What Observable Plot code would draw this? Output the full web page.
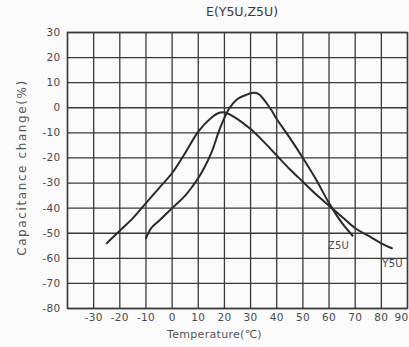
<!DOCTYPE html>
<html>
<head>
<meta charset="utf-8">
<script src="https://cdn.jsdelivr.net/npm/d3@7"></script>
<script src="https://cdn.jsdelivr.net/npm/@observablehq/plot@0.6"></script>
<style>
  html, body { margin: 0; padding: 0; background: #fbfbfb; }
  #wrap { width: 409px; height: 347px; overflow: hidden; position: relative; }
  #title { height: 24px; position: relative; font-family: "DejaVu Sans", sans-serif; font-size: 12.5px; color: #3a3a3a; }
  #title span { position: absolute; left: 242px; top: 11px; transform: translate(-50%, -50%); white-space: nowrap; }
</style>
</head>
<body>
<div id="wrap">
  <div id="title"><span>E(Y5U,Z5U)</span></div>
  <div id="chart"></div>
</div>
<script>
const y5uTemp = [-25, -20, -15, -10, -5, 0, 5, 10, 15, 18, 20, 25, 30, 35, 40, 45, 50, 55, 60, 65, 70, 75, 80, 84];
const y5uChange = [-54, -49, -44, -38, -32, -26, -18, -9.5, -4, -2, -1.8, -4.5, -8.5, -13.5, -19, -24.5, -29.5, -34.5, -39, -43.5, -48, -51, -54, -56];
const z5uTemp = [-10, -8, -5, 0, 5, 8, 10, 12, 15, 18, 20, 22, 25, 28, 31, 33, 36, 38, 40, 45, 50, 55, 60, 65, 69];
const z5uChange = [-52, -48, -45, -40, -35, -31, -28, -24.5, -18, -9, -4, 0, 3.5, 5, 6, 5.5, 2, -1, -4.5, -12, -20, -28.5, -38, -46, -51];
const xTicks = [-30, -20, -10, 0, 10, 20, 30, 40, 50, 60, 70, 80];
const xLastTick = [90];
const yTicks = [30, 20, 10, 0, -10, -20, -30, -40, -50, -60, -70, -80];
const seriesLabels = ["Z5U", "Y5U"];
const labelTemp = [63.6, 84.3];
const labelChange = [-55, -62];
const xTitle = "Temperature(℃)";
const yTitle = "Capacitance change(%)";

const y5u = y5uTemp.map((t, i) => ({t, c: y5uChange[i]}));
const z5u = z5uTemp.map((t, i) => ({t, c: z5uChange[i]}));
const labels = seriesLabels.map((s, i) => ({s, t: labelTemp[i], c: labelChange[i]}));
const gridX = d3.range(-40, 91, 10);

const chart = Plot.plot({
  width: 409,
  height: 323,
  marginLeft: 67,
  marginRight: 2,
  marginTop: 8,
  marginBottom: 39,
  style: {fontFamily: "DejaVu Sans, sans-serif", fontSize: "10.5px", color: "#4a4a4a", background: "transparent", letterSpacing: "0.3px"},
  x: {domain: [-40, 90], label: null},
  y: {domain: [-80, 30], label: null},
  marks: [
    Plot.ruleX(gridX, {stroke: "#3a3a3a", strokeWidth: 1.3}),
    Plot.ruleY(yTicks, {stroke: "#3a3a3a", strokeWidth: 1.3}),
    Plot.frame({stroke: "#3a3a3a", strokeWidth: 1.4}),
    Plot.axisX(xTicks, {tickSize: 0, tickPadding: 5, tickFormat: d => String(d), label: null, fill: "#4a4a4a"}),
    Plot.axisX(xLastTick, {tickSize: 0, tickPadding: 5, tickFormat: d => String(d), label: null, fill: "#4a4a4a", dx: -6}),
    Plot.axisY(yTicks, {tickSize: 0, tickPadding: 7, tickFormat: d => String(d), label: null, fill: "#4a4a4a"}),
    Plot.text([xTitle], {frameAnchor: "bottom", dx: -23, dy: 26, lineAnchor: "middle", fontSize: 11, fill: "#555"}),
    Plot.text([yTitle], {frameAnchor: "left", textAnchor: "middle", dx: -45, dy: -3, rotate: -90, fontSize: 12, fill: "#555"}),
    Plot.line(y5u, {x: "t", y: "c", curve: "catmull-rom", stroke: "#2a2a2a", strokeWidth: 2}),
    Plot.line(z5u, {x: "t", y: "c", curve: "catmull-rom", stroke: "#2a2a2a", strokeWidth: 2}),
    Plot.text(labels, {x: "t", y: "c", text: "s", fill: "#4a4a4a", fontSize: 10})
  ]
});
d3.select(chart).selectAll("text")
  .filter(function () { return this.textContent === yTitle; })
  .attr("letter-spacing", "1.6px")
  .style("letter-spacing", "1.6px");
document.getElementById("chart").appendChild(chart);
</script>
</body>
</html>
